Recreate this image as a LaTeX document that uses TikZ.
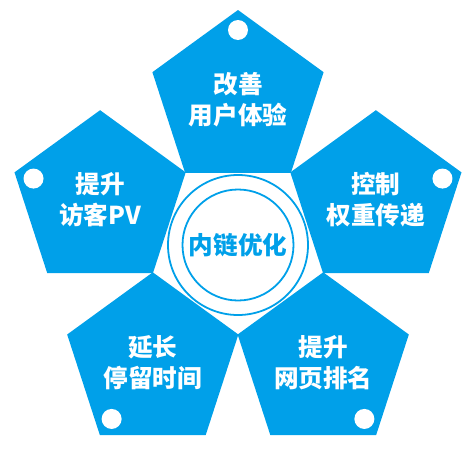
\documentclass[tikz,border=0pt]{standalone}
\usepackage{fontspec}
\newfontfamily\cjk{Noto Sans CJK SC}
\usetikzlibrary{shapes.geometric}
\definecolor{linkblue}{RGB}{0,160,233}

\begin{document}
\begin{tikzpicture}[x=1pt, y=1pt,
    every node/.style={inner sep=0pt, outer sep=0pt},
    petal/.style={regular polygon, regular polygon sides=5, minimum size=180pt,
        fill=linkblue, text=white, align=center,
        font=\cjk\bfseries\fontsize{24.6}{31}\selectfont},
    hole/.style={circle, fill=white, minimum size=20pt},
    ring/.style={circle, draw=linkblue, line width=1.8pt}]
  \useasboundingbox (-238,-211) rectangle (238,245);
  \foreach \ang/\name/\txt in {90/gaishan/{改善\\用户体验}, 18/kongzhi/{控制\\权重传递},
      -54/paiming/{提升\\网页排名}, -126/tingliu/{延长\\停留时间}, 162/fangke/{提升\\访客PV}}
    {
      \node[petal] (\name) at (\ang:145) {\txt};
      \path (\name.center) ++(\ang:70) node[hole] (\name-hole) {};
    }
  \node[ring, minimum size=140pt] (outer) at (0,0) {};
  \node[ring, minimum size=111pt, text=linkblue,
      font=\cjk\bfseries\fontsize{24.6}{31}\selectfont] (neilian) at (0,0) {内链优化};
\end{tikzpicture}
\end{document}
